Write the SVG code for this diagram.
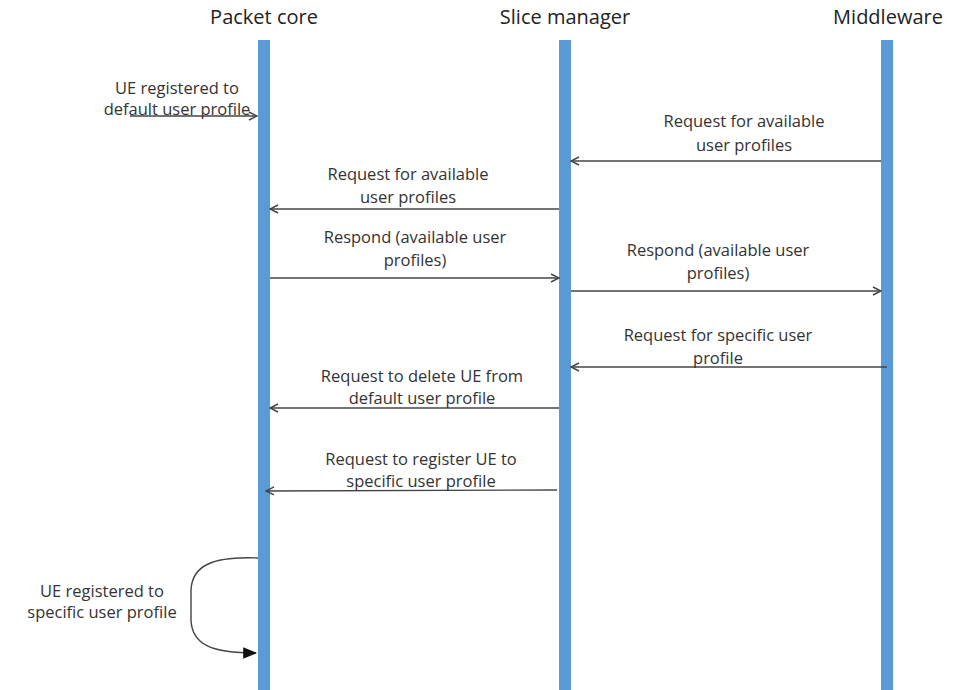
<svg xmlns="http://www.w3.org/2000/svg" width="964" height="690" viewBox="0 0 964 690">
<style>
.t{font-family:"Open Sans","Liberation Sans",sans-serif;font-size:16.5px;fill:#333;text-anchor:middle}
.h{font-family:"Open Sans","Liberation Sans",sans-serif;font-size:20px;fill:#222;text-anchor:middle}
.bar{fill:#5B9BD5}
.c{stroke:#444;stroke-width:1.4;fill:none}
</style>
<defs>
<marker id="open" viewBox="0 0 10 10" refX="9" refY="5" markerWidth="10" markerHeight="10" markerUnits="userSpaceOnUse" orient="auto">
<path d="M1,1 L9,5 L1,9" fill="none" stroke="#444" stroke-width="1.4"/>
</marker>
<marker id="fill" viewBox="0 0 12 12" refX="11" refY="6" markerWidth="14" markerHeight="14" markerUnits="userSpaceOnUse" orient="auto">
<path d="M0,1 L12,6 L0,11 Z" fill="#111"/>
</marker>
</defs>
<rect width="964" height="690" fill="#fff"/>
<g id="packet-core">
<rect class="bar" x="258" y="40" width="12" height="650"/>
<text class="h" x="264" y="24">Packet core</text>
</g>
<g id="slice-manager">
<rect class="bar" x="559" y="40" width="12" height="650"/>
<text class="h" x="565" y="24">Slice manager</text>
</g>
<g id="middleware">
<rect class="bar" x="881" y="40" width="12" height="650"/>
<text class="h" x="888" y="24">Middleware</text>
</g>
<g id="connectors">
<line class="c" x1="130" y1="116" x2="257" y2="116" marker-end="url(#open)"/>
<line class="c" x1="881" y1="161" x2="571" y2="161" marker-end="url(#open)"/>
<line class="c" x1="559" y1="209" x2="270" y2="209" marker-end="url(#open)"/>
<line class="c" x1="270" y1="278" x2="559" y2="278" marker-end="url(#open)"/>
<line class="c" x1="571" y1="291" x2="881" y2="291" marker-end="url(#open)"/>
<line class="c" x1="887" y1="367" x2="571" y2="367" marker-end="url(#open)"/>
<line class="c" x1="559" y1="408" x2="270" y2="408" marker-end="url(#open)"/>
<line class="c" x1="557" y1="490" x2="266" y2="491" marker-end="url(#open)"/>
<path class="c" d="M258,558 C212,556 192,566 191,590 L191,620 C192,645 212,653 256,653" stroke="#222" stroke-width="1.6" marker-end="url(#fill)"/>
</g>
<g id="labels">
<text class="t"><tspan x="177" y="94">UE registered to</tspan><tspan x="177" y="115">default user profile</tspan></text>
<text class="t"><tspan x="744" y="127">Request for available</tspan><tspan x="744" y="151">user profiles</tspan></text>
<text class="t"><tspan x="408" y="180">Request for available</tspan><tspan x="408" y="203">user profiles</tspan></text>
<text class="t"><tspan x="415" y="243">Respond (available user</tspan><tspan x="415" y="266">profiles)</tspan></text>
<text class="t"><tspan x="718" y="256">Respond (available user</tspan><tspan x="718" y="279">profiles)</tspan></text>
<text class="t"><tspan x="718" y="341">Request for specific user</tspan><tspan x="718" y="364">profile</tspan></text>
<text class="t"><tspan x="422" y="382">Request to delete UE from</tspan><tspan x="422" y="404">default user profile</tspan></text>
<text class="t"><tspan x="421" y="465">Request to register UE to</tspan><tspan x="421" y="487">specific user profile</tspan></text>
<text class="t"><tspan x="102" y="597">UE registered to</tspan><tspan x="102" y="618">specific user profile</tspan></text>
</g>
</svg>
